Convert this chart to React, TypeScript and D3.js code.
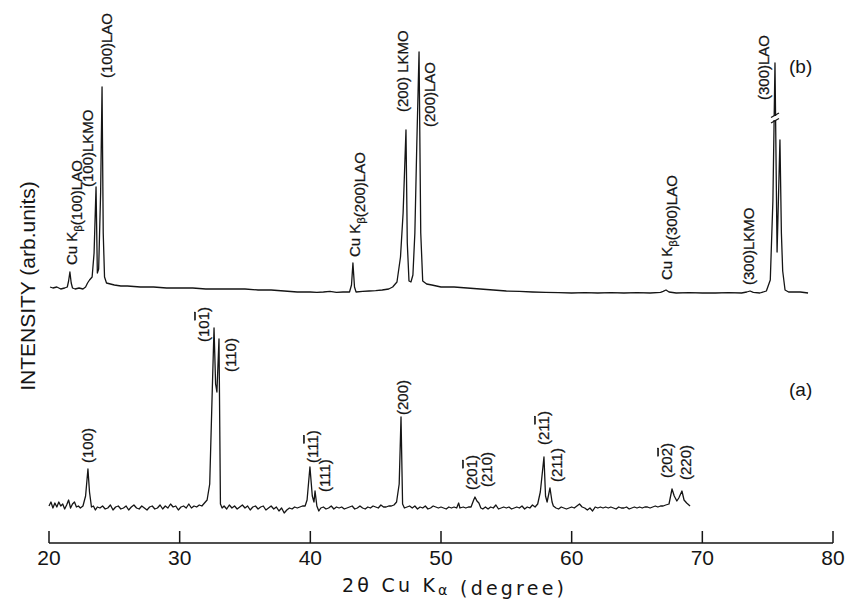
import React from "react";
import * as d3 from "d3";

// 2θ ticks
const X_TICKS = [20, 30, 40, 50, 60, 70, 80];

// Trace (a): [2θ, intensity a.u.]
const TRACE_A: [number, number][] = [
  [20.0, 1], [20.15, 3], [20.3, 0], [20.45, 2.5], [20.6, 0.5], [20.75, 3], [20.9, 1], [21.05, 2],
  [21.2, -0.5], [21.35, 1.5], [21.5, 4], [21.65, 0], [21.8, 2], [21.95, 3], [22.1, 0.5], [22.25, 1],
  [22.4, 0], [22.6, 1], [22.8, 6], [22.98, 19.5], [23.1, 8], [23.25, 0.5], [23.4, 1], [23.55, -1],
  [23.7, 0.5], [23.9, 0], [24.1, 1], [24.3, -0.5], [24.5, 0], [24.7, 1.5], [24.9, -1], [25.1, 0.5],
  [25.3, 1], [25.5, -0.5], [25.7, 0], [25.9, 1], [26.1, -1], [26.3, 0.5], [26.5, 1.5], [26.7, 0],
  [26.9, -0.5], [27.1, 1], [27.3, 0], [27.5, -1], [27.7, 0.5], [27.9, 1], [28.1, -0.5], [28.3, 0],
  [28.5, 1.5], [28.7, -0.5], [28.9, 1], [29.1, 0], [29.3, 2], [29.5, 0.5], [29.7, 1], [29.9, -1],
  [30.1, 0.5], [30.3, 1], [30.5, 0], [30.7, 2], [30.9, 0], [31.1, 1], [31.3, 0.5], [31.5, 1.5],
  [31.7, 1], [31.9, 2.5], [32.1, 4], [32.3, 12], [32.5, 60], [32.63, 90], [32.75, 62], [32.85, 58],
  [33.01, 84.5], [33.12, 2], [33.25, 0], [33.4, 1], [33.6, -0.5], [33.8, 1.5], [34.0, 0], [34.2, 1],
  [34.4, -0.5], [34.6, 0.5], [34.8, 1.5], [35.0, 0], [35.2, 1], [35.4, -1], [35.6, 0.5], [35.8, 1],
  [36.0, -0.5], [36.2, 0.5], [36.4, 1], [36.6, -1], [36.8, 0], [37.0, 1], [37.2, -0.5], [37.4, 0.5],
  [37.6, -1.5], [37.8, 0], [38.0, -2.5], [38.2, -1], [38.4, 0], [38.6, -0.5], [38.8, 0.5], [39.0, 0],
  [39.2, 0.5], [39.4, 1], [39.6, 1], [39.75, 4], [39.97, 20.5], [40.15, 6], [40.28, 3], [40.36, 8.5],
  [40.5, 1], [40.65, -1.5], [40.8, 0], [41.0, 0.5], [41.2, -0.5], [41.4, 0], [41.6, 1], [41.8, -0.5],
  [42.0, 0.5], [42.2, 0], [42.4, 0.5], [42.6, -0.5], [42.8, 0], [43.0, 0.5], [43.2, 1], [43.4, -0.5],
  [43.6, 0], [43.8, 1], [44.0, 0], [44.2, -0.5], [44.4, 0.5], [44.6, 0], [44.8, 1], [45.0, 0.5],
  [45.2, 0], [45.4, 1.5], [45.6, 0.5], [45.8, 0.5], [46.0, 1], [46.2, 1], [46.4, 1.5], [46.6, 3],
  [46.8, 12], [46.94, 45.5], [47.06, 2], [47.2, 0], [47.4, 0.5], [47.6, 1], [47.8, 0], [48.0, 1],
  [48.2, -0.5], [48.4, 0.5], [48.6, 0], [48.8, 1], [49.0, -0.5], [49.2, 0], [49.4, 1], [49.6, 0.5],
  [49.8, 0], [50.0, 0.5], [50.2, 0], [50.4, -0.5], [50.6, 0.5], [50.8, 0], [51.0, 0.5], [51.2, 0],
  [51.35, 2.5], [51.45, 0], [51.7, 0.5], [51.9, 0], [52.1, 0.5], [52.3, 0.5], [52.5, 4], [52.6, 5.5],
  [52.75, 3.5], [52.9, 2.5], [53.05, 0], [53.2, -0.5], [53.4, 0.5], [53.6, -0.5], [53.8, 0.5], [54.0, 0],
  [54.2, 1.5], [54.4, -0.5], [54.6, 0], [54.8, 0.5], [55.0, 0], [55.2, 0.5], [55.4, -0.5], [55.6, 0],
  [55.8, 0.5], [56.0, 0], [56.2, 1], [56.4, -0.5], [56.6, 0.5], [56.8, 0], [57.0, 1.5], [57.2, 0.5],
  [57.4, 2], [57.6, 8], [57.88, 25.5], [58.0, 6], [58.12, 3], [58.34, 10], [58.5, 3], [58.6, 1],
  [58.8, 0], [59.0, -0.5], [59.2, 0.5], [59.4, 0], [59.6, -0.5], [59.8, 0], [60.0, 0.5], [60.2, 0],
  [60.4, 1], [60.6, 2], [60.8, 0.5], [61.0, 0], [61.2, -1], [61.4, 0], [61.6, -1.5], [61.8, 0.5],
  [62.0, 0], [62.2, 0.5], [62.4, 0], [62.6, 0.5], [62.8, 0], [63.0, 0.5], [63.2, 0], [63.4, -0.5],
  [63.6, 0.5], [63.8, 0], [64.0, 0], [64.2, 0.5], [64.4, -0.5], [64.6, 0], [64.8, 0.5], [65.0, 0],
  [65.2, 0.5], [65.4, 0], [65.6, 0.5], [65.8, 0.5], [66.0, 0], [66.2, 0.5], [66.4, 1], [66.6, 0.5],
  [66.8, 1], [67.0, 1], [67.2, 1.5], [67.45, 2], [67.68, 9.5], [67.85, 6], [68.05, 3.5], [68.2, 5],
  [68.44, 8.5], [68.6, 4], [68.8, 2.5], [69.06, 1],
];

// Trace (b): [2θ, intensity a.u.]
const TRACE_B: [number, number][] = [
  [20.08, 3], [20.3, 2.5], [20.6, 3], [20.9, 2], [21.2, 2.5], [21.4, 3], [21.5, 6], [21.6, 10.5],
  [21.7, 5], [21.8, 2.5], [22.0, 2], [22.3, 2.5], [22.6, 2], [22.8, 3], [22.95, 5], [23.1, 6.5],
  [23.3, 8], [23.45, 20], [23.6, 53], [23.7, 10], [23.8, 12], [23.95, 50], [24.06, 103], [24.15, 30],
  [24.25, 8], [24.4, 5], [24.7, 4.5], [25.0, 4], [25.5, 3.5], [26, 3.5], [27, 3], [28, 3], [29, 2.5],
  [30, 2.5], [31, 2.5], [32, 2], [33, 2], [34, 2], [35, 2], [36, 1.5], [37, 1.5], [38, 1], [39, 0.5],
  [40, 0.5], [40.5, 0.3], [41, 0.5], [41.5, 0.8], [42, 0.3], [42.5, 0.5], [43.0, 0.5], [43.15, 4],
  [43.26, 15], [43.38, 3], [43.5, 0.5], [44, 0.8], [44.5, 1], [45, 1.2], [45.5, 1.5], [46, 2],
  [46.3, 3], [46.63, 5.5], [46.9, 18], [47.1, 40], [47.32, 81.5], [47.42, 25], [47.55, 6], [47.7, 5.5],
  [47.85, 9], [48.0, 30], [48.15, 75], [48.32, 120.5], [48.45, 30], [48.6, 6], [48.9, 4.5], [49.3, 4],
  [50, 3], [51, 3], [52, 2.5], [53, 2], [54, 1.5], [55, 1], [56, 0.8], [57, 0.5], [58, 0.3], [59, 0.2],
  [60, 0], [61, 0.2], [62, 0], [63, 0.2], [64, 0], [65, 0.2], [66, 0], [66.8, 0.3], [67.0, 0.8],
  [67.22, 1.5], [67.45, 0.5], [68, 0], [69, 0.2], [70, 0], [71, 0], [72, 0.2], [73, 0], [73.4, 0.5],
  [73.65, 1], [73.9, 0.3], [74.4, 0], [74.9, 1], [75.2, 6.5], [75.4, 46], [75.56, 115], [75.72, 20.5],
  [75.94, 76.5], [76.05, 30], [76.15, 11], [76.33, 1.5], [76.6, 0.5], [77, 0.5], [77.5, 0.5], [78.09, 0],
];

// Peak labels: [text, 2θ, intensity level of text start]  ("_" = subscript, "~" = overbar)
const LABELS_B: [string, number, number][] = [
  ["Cu K_β(100)LAO", 21.76, 14],
  ["(100)LKMO", 22.98, 53],
  ["(100)LAO", 24.44, 107.5],
  ["Cu K_β(200)LAO", 43.42, 18],
  ["(200) LKMO", 47.09, 90.5],
  ["(200)LAO", 49.16, 83],
  ["Cu K_β(300)LAO", 67.3, 6.5],
  ["(300)LKMO", 73.57, 4],
  ["(300)LAO", 74.72, 96.5],
];
const LABELS_A: [string, number, number][] = [
  ["(100)", 22.98, 22.5],
  ["(10~1)", 31.86, 83],
  ["(110)", 33.93, 68],
  ["(11~1)", 40.2, 22.5],
  ["(111)", 41.12, 8],
  ["(200)", 47.09, 46.5],
  ["(20~1)", 52.37, 9],
  ["(210)", 53.52, 10.5],
  ["(21~1)", 57.88, 31.5],
  ["(211)", 58.88, 13],
  ["(20~2)", 67.3, 15],
  ["(220)", 68.75, 14],
];
const BREAK_B: [number, number] = [75.56, 87.5];

const OFFSET_A = 17.5;
const OFFSET_B = 125;

const FONT = "'Liberation Sans', Arial, sans-serif";
const TITLE_FONT = "'DejaVu Sans', Verdana, sans-serif";
const INK = "#151515";

function rich(s: string, size: number, shift = 0.3) {
  const out: React.ReactNode[] = [];
  let buf = "";
  let k = 0;
  for (let i = 0; i < s.length; i++) {
    const c = s[i];
    if (c === "_" || c === "~") {
      if (buf) out.push(<tspan key={k++}>{buf}</tspan>);
      buf = "";
      const n = s[i + 1];
      i++;
      if (c === "_") {
        out.push(
          <tspan key={k++} dy={size * shift} fontSize={size * 0.75}>{n}</tspan>
        );
        out.push(<tspan key={k++} dy={-size * shift}>{""}</tspan>);
      } else {
        out.push(
          <tspan key={k++} style={{ textDecoration: "overline" }}>{n}</tspan>
        );
      }
    } else buf += c;
  }
  if (buf) out.push(<tspan key={k++}>{buf}</tspan>);
  return out;
}

export default function App() {
  const W = 845, H = 602;
  const x = d3.scaleLinear().domain([20, 80]).range([49, 833]);
  const y = d3.scaleLinear().domain([0, 250]).range([543, 43]);
  const lineA = d3.line<[number, number]>().x((d) => x(d[0])).y((d) => y(d[1] + OFFSET_A));
  const lineB = d3.line<[number, number]>().x((d) => x(d[0])).y((d) => y(d[1] + OFFSET_B));
  const y0 = y(0);
  const labelSize = 15;

  const renderLabels = (labels: [string, number, number][], off: number, pre: string) =>
    labels.map(([t, deg, lv], i) => (
      <text
        key={pre + i}
        transform={`translate(${x(deg)},${y(lv + off)}) rotate(-90)`}
        dy="0.35em"
        fontSize={labelSize}
        fontFamily={FONT}
        fill={INK}
        stroke={INK}
        strokeWidth={0.25}
      >
        {rich(t, labelSize)}
      </text>
    ));

  const bx = x(BREAK_B[0]);
  const by = y(BREAK_B[1] + OFFSET_B);

  return (
    <svg
      width={W}
      height={H}
      style={{ position: "absolute", left: 0, top: 0, background: "#fff" }}
    >
      <rect width={W} height={H} fill="#fff" />
      {/* x axis */}
      <line x1={x(20)} x2={x(80)} y1={y0} y2={y0} stroke={INK} strokeWidth={1.5} />
      {X_TICKS.map((t) => (
        <g key={t}>
          <line x1={x(t)} x2={x(t)} y1={y0} y2={y0 - 12} stroke={INK} strokeWidth={1.5} />
          <text x={x(t)} y={y0 + 22} textAnchor="middle" fontSize={21} fontFamily={FONT} fill={INK}>
            {t}
          </text>
        </g>
      ))}
      <text
        x={342}
        y={592}
        fontSize={19}
        fontFamily={TITLE_FONT}
        fill={INK}
        textLength={222}
        lengthAdjust="spacing"
      >
        {rich("2θ Cu K_α (degree)", 19, 0.18)}
      </text>
      <text
        transform={`translate(28,286) rotate(-90)`}
        dy="0.35em"
        textAnchor="middle"
        fontSize={21}
        fontFamily={FONT}
        fill={INK}
      >
        INTENSITY (arb.units)
      </text>

      {/* traces */}
      <path d={lineA(TRACE_A) || ""} fill="none" stroke={INK} strokeWidth={1.3} strokeLinejoin="round" />
      <path d={lineB(TRACE_B) || ""} fill="none" stroke={INK} strokeWidth={1.3} strokeLinejoin="round" />

      {/* break mark on (300)LAO peak */}
      <rect x={bx - 5} y={by - 2} width={10} height={4} fill="#fff" />
      <line x1={bx - 4} y1={by - 0.5} x2={bx + 4} y2={by - 5} stroke={INK} strokeWidth={1.3} />
      <line x1={bx - 4} y1={by + 5} x2={bx + 4} y2={by + 0.5} stroke={INK} strokeWidth={1.3} />

      {renderLabels(LABELS_B, OFFSET_B, "b")}
      {renderLabels(LABELS_A, OFFSET_A, "a")}

      <text x={789} y={73} fontSize={19} fontFamily={FONT} fill={INK}>(b)</text>
      <text x={789} y={396} fontSize={19} fontFamily={FONT} fill={INK}>(a)</text>
    </svg>
  );
}
